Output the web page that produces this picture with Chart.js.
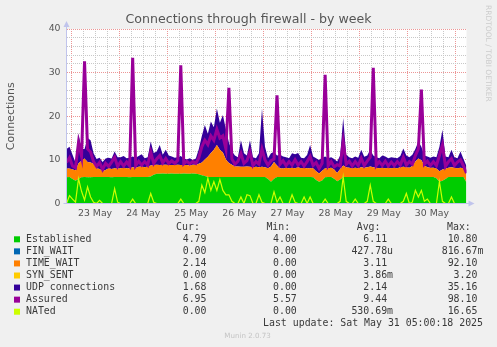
<!DOCTYPE html>
<html><head><meta charset="utf-8">
<script src="https://cdn.jsdelivr.net/npm/chart.js@4/dist/chart.umd.min.js"></script>
<style>html,body{margin:0;padding:0;background:#f0f0f0;}canvas{display:block;}</style>
</head><body>
<canvas id="c" width="497" height="347"></canvas>
<script>
// ---- data (1.5 h samples starting 22 May 21:45) ----
const dayLabels = ['23 May','24 May','25 May','26 May','27 May','28 May','29 May','30 May'];
const sampleStartHour = -2.25;   // hours relative to 23 May 00:00
const sampleStepHours = 1.5;

const established = [
6.0,6.1,5.6,5.2,5.6,6.0,6.1,6.0,6.0,6.1,
6.1,6.1,6.1,6.1,6.1,6.0,6.1,6.1,6.1,6.1,
6.1,6.0,6.1,6.1,6.1,6.1,6.1,6.1,6.2,6.6,
6.8,6.8,6.9,6.8,6.8,6.9,6.8,6.8,6.8,6.9,
6.8,6.8,6.9,6.8,6.7,6.5,6.3,6.1,6.1,6.1,
6.1,6.1,6.1,6.1,6.1,6.1,6.1,6.1,6.1,6.1,
6.1,6.1,6.1,6.1,6.1,6.1,6.1,5.6,5.0,5.7,
6.1,6.1,6.1,6.1,6.1,6.1,6.1,6.1,6.1,6.1,
6.1,6.1,6.0,5.4,5.0,5.3,6.0,6.1,6.1,5.7,
5.1,5.5,6.1,6.1,6.1,6.1,6.1,6.1,6.1,6.1,
6.1,6.1,6.1,6.1,6.1,6.1,6.1,6.1,6.1,6.1,
6.1,6.1,6.1,6.1,6.1,6.1,6.1,6.1,6.1,6.1,
6.1,6.1,6.1,5.8,5.0,5.2,5.6,6.1,6.1,6.1,
6.1,6.1,6.1,4.79];
const finWait = [
0,0,0,0,0,0,0,0,0,0, 0,0,0,0,0,0,0,0,0,0, 0,0,0,0,0,0,0,0,0,0,
0,0,0,0,0,0,0,0,0,0, 0,0,0,0,0,0,0,0,0,0, 0,0,0,0,0,0,0,0,0,0,
0,0,0,0,0,0,0,0,0,0, 0,0,0,0,0,0,0,0,0,0, 0,0,0,0,0,0,0,0,0,0,
0,0,0,0,0,0,0,0,0,0, 0,0,0,0,0,0,0,0,0,0, 0,0,0,0,0,0,0,0,0,0,
0,0,0,0,0,0,0,0,0,0, 0,0,0,0];
const timeWait = [
2.0,1.9,2.2,2.4,3.6,3.8,4.2,3.5,3.4,3.0,
2.0,1.8,1.3,1.6,2.0,1.9,2.0,1.9,2.0,2.1,
2.0,2.1,2.2,2.1,2.3,2.4,2.2,2.4,2.5,2.2,
2.1,2.0,2.0,2.1,2.0,1.9,2.0,2.1,2.0,1.9,
2.0,1.9,2.0,2.1,2.4,2.9,3.8,4.6,5.5,6.2,
7.3,6.2,5.6,4.0,3.2,2.8,2.4,2.4,2.3,2.3,
2.4,2.3,2.2,2.3,2.2,2.3,2.2,2.5,3.5,3.8,
2.6,2.0,1.9,2.1,2.0,2.1,2.0,2.2,2.0,2.1,
2.0,2.0,2.1,2.0,1.9,2.2,2.1,2.0,2.1,2.1,
1.9,2.4,2.6,2.2,2.1,2.0,2.1,2.0,2.2,2.1,
2.2,2.4,2.2,2.1,2.0,2.1,2.0,2.1,2.0,2.1,
2.0,2.2,2.3,2.2,2.1,2.5,3.5,4.2,3.8,2.6,
2.2,2.1,2.1,2.2,2.4,2.6,2.4,2.1,2.2,2.1,
2.0,2.1,2.0,2.14];
const synSent = [
0,0,0,0,0,0,0,0,0,0, 0,0,0,0,0,0,0,0,0,0, 0,0,0,0,0,0,0,0,0,0,
0,0,0,0,0,0,0,0,0,0, 0,0,0,0,0,0,0,0,0,0, 0,0,0,0,0,0,0,0,0,0,
0,0,0,0,0,0,0,0,0,0, 0,0,0,0,0,0,0,0,0,0, 0,0,0,0,0,0,0,0,0,0,
0,0,0,0,0,0,0,0,0,0, 0,0,0,0,0,0,0,0,0,0, 0,0,0,0,0,0,0,0,0,0,
0,0,0,0,0,0,0,0,0,0, 0,0,0,0];
const udp = [
4.5,5.0,3.4,1.8,6.8,2.7,2.2,5.5,5.1,2.4,
2.1,2.6,2.1,2.6,2.4,2.4,3.8,2.6,2.5,2.7,
2.3,2.4,2.5,2.3,2.5,2.8,2.1,2.1,5.5,2.8,
3.0,4.6,2.3,3.4,2.2,2.0,1.7,1.7,2.1,1.5,
1.3,1.7,1.1,1.4,3.4,6.1,7.9,5.3,7.2,5.2,
8.4,6.2,8.6,6.9,4.7,3.1,2.5,2.1,6.1,3.1,
2.5,6.1,2.3,2.0,3.2,13.4,4.7,2.3,3.0,2.3,
2.3,3.1,2.8,2.4,2.3,3.3,3.2,3.3,2.4,2.2,
3.0,5.3,2.7,3.0,3.1,3.0,2.7,2.3,2.4,2.4,
2.6,3.1,10.9,2.9,2.4,2.3,2.6,2.4,4.0,2.5,
2.7,3.8,2.7,2.4,2.3,2.8,2.7,2.2,2.5,2.3,
2.3,2.6,4.2,2.7,2.4,2.6,2.9,3.9,3.1,2.3,
2.5,2.3,2.6,2.6,5.6,9.1,2.8,2.4,4.0,2.4,
2.3,3.7,2.1,1.68];
const assured = [
9.4,10.5,8.6,8.2,14.0,10.8,32.6,12.5,11.8,9.6,
8.5,9.4,7.8,9.2,8.5,9.5,10.6,8.5,9.6,8.6,
9.5,8.6,33.4,8.7,9.7,8.8,9.6,8.8,11.8,9.2,
10.2,11.0,9.3,10.3,9.2,9.8,9.2,9.9,31.7,9.1,
9.7,9.1,9.6,9.2,10.5,13.0,14.5,13.5,15.5,14.5,
17.0,15.0,15.5,12.5,26.5,10.2,9.0,9.7,11.5,9.2,
9.8,11.8,8.7,9.6,9.0,12.5,10.0,8.8,9.8,10.2,
24.8,9.0,9.8,8.7,9.6,8.8,10.0,8.8,9.6,8.6,
9.6,10.8,8.7,9.4,8.0,9.2,29.5,8.6,9.6,8.4,
8.9,8.6,14.2,9.0,9.7,8.6,9.6,8.7,10.4,8.7,
9.7,10.6,31.1,8.7,9.6,8.7,9.7,8.6,9.5,8.7,
9.6,8.8,10.6,8.8,9.6,9.0,11.0,12.5,26.1,9.0,
9.7,8.7,9.6,8.7,11.0,13.4,8.5,9.6,10.3,8.7,
9.5,10.0,8.6,6.95];
const nated = [
0,1.8,1.0,0.3,5.7,2.8,0.8,3.8,1.5,0.3,
0,0.7,0,0,0,0,3.4,0.3,0,0,
0,0,1.0,0,0,0,0,0,2.3,0.3,
0,0,0,0,0,0,0,0,1.0,0,
0,0,0,0,0.5,4.2,2.5,5.8,3.0,5.0,
3.0,5.5,3.0,2.0,2.0,0.5,0,0,1.5,0,
2.0,1.8,0,0,2.0,0.3,0,0,0,2.7,
0.3,1.5,0,0,0,2.0,0.3,0,0,1.5,
0,1.5,0,0,0,0,1.0,0,0,0,
0,0.5,6.1,0.5,0,0,1.0,0,0,0,
0.5,4.2,0.5,0,0,0,0,1.0,0,0,
0,0,0.5,2.3,0,0.3,3.0,1.5,3.0,0.5,
1.0,0,0,0,5.0,0.5,0,0,1.5,0,
0,0,0,0];

// legend table values
const seriesNames = ['Established','FIN_WAIT','TIME_WAIT','SYN_SENT','UDP connections','Assured','NATed'];
const curVals = ['4.79','0.00','2.14','0.00','1.68','6.95','0.00'];
const minVals = ['4.00','0.00','0.00','0.00','0.00','5.57','0.00'];
const avgVals = ['6.11','427.78u','3.11','3.86m','2.14','9.44','530.69m'];
const maxVals = ['10.80','816.67m','92.10','3.20','35.16','98.10','16.65'];
const lastUpdate = 'Last update: Sat May 31 05:00:18 2025';

// ---- styling ----
const COLORS = ['#00CC00','#0066B3','#FF8000','#FFCC00','#330099','#990099','#CCFF00'];
const MAJOR = 'rgb(236,150,150)';
const MINOR = 'rgb(200,200,200)';
const TXT = '#555555';

const hours = established.map((_, i) => sampleStartHour + i * sampleStepHours);
const pts = arr => arr.map((v, i) => ({x: hours[i], y: v}));

function area(label, arr, k, fill) {
  return {label, data: pts(arr), backgroundColor: COLORS[k], borderColor: 'rgba(0,0,0,0)',
    borderWidth: 0, fill, stack: 'conn', order: 2, pointRadius: 0, pointHoverRadius: 0, tension: 0};
}

const deco = {
  id: 'deco',
  beforeDraw(chart) {
    const {ctx, chartArea: a} = chart;
    ctx.save();
    ctx.fillStyle = '#f0f0f0';
    ctx.fillRect(0, 0, chart.width, chart.height);
    ctx.fillStyle = '#ffffff';
    ctx.fillRect(a.left, a.top, a.right - a.left, a.bottom - a.top);
    ctx.restore();
  },
  afterDraw(chart) {
    const {ctx, chartArea: a} = chart;
    ctx.save();
    // axes with arrows
    ctx.strokeStyle = '#c0c4ec';
    ctx.fillStyle = '#c0c4ec';
    ctx.lineWidth = 1;
    ctx.beginPath();
    ctx.moveTo(a.left, a.bottom + 0.5); ctx.lineTo(a.left, a.top - 4);
    ctx.moveTo(a.left - 3, a.bottom); ctx.lineTo(a.right + 4, a.bottom);
    ctx.stroke();
    ctx.beginPath();
    ctx.moveTo(a.left - 3, a.top - 2); ctx.lineTo(a.left + 3, a.top - 2); ctx.lineTo(a.left, a.top - 8); ctx.closePath(); ctx.fill();
    ctx.beginPath();
    ctx.moveTo(a.right + 2, a.bottom - 3); ctx.lineTo(a.right + 2, a.bottom + 3); ctx.lineTo(a.right + 8, a.bottom); ctx.closePath(); ctx.fill();

    // title
    ctx.fillStyle = TXT;
    ctx.font = '12.6px "DejaVu Sans"';
    ctx.textAlign = 'center';
    ctx.textBaseline = 'middle';
    ctx.fillText('Connections through firewall - by week', 248.5, 19.5);

    // vertical watermark
    ctx.save();
    ctx.translate(487.5, 53.3);
    ctx.rotate(Math.PI / 2);
    ctx.fillStyle = '#cccccc';
    ctx.font = '7.5px "DejaVu Sans"';
    ctx.fillText('RRDTOOL / TOBI OETIKER', 0, 0);
    ctx.restore();

    // legend table
    const mono = '9.9px "DejaVu Sans Mono"';
    ctx.font = mono;
    ctx.fillStyle = '#3a3a3a';
    const colEnds = [206.5, 296.8, 387.1, 477.4];
    const heads = ['Cur:', 'Min:', 'Avg:', 'Max:'];
    ctx.textAlign = 'left';
    heads.forEach((h, k) => ctx.fillText(h, colEnds[k] - 30.4, 227.3));
    const cols = [curVals, minVals, avgVals, maxVals];
    seriesNames.forEach((name, r) => {
      const y = 239.3 + r * 12.07;
      ctx.fillStyle = COLORS[r];
      ctx.fillRect(14, y - 3, 6, 6);
      ctx.fillStyle = '#3a3a3a';
      ctx.textAlign = 'left';
      ctx.fillText(name, 26, y);
      cols.forEach((col, k) => {
        const v = col[r];
        const m = v.match(/^(.*?)([a-zA-Z]?)$/);
        ctx.textAlign = 'right';
        ctx.fillText(m[1], colEnds[k], y);
        if (m[2]) { ctx.textAlign = 'left'; ctx.fillText(m[2], colEnds[k], y); }
      });
    });
    ctx.textAlign = 'right';
    ctx.fillText(lastUpdate, 483, 323.7);
    ctx.textAlign = 'center';
    ctx.fillStyle = '#c4c4c4';
    ctx.font = '7.1px "DejaVu Sans"';
    ctx.fillText('Munin 2.0.73', 247.5, 336);
    ctx.restore();
  }
};

const zeroPad = s => { s.paddingLeft = 0; s.paddingRight = 0; s.paddingTop = 0; s.paddingBottom = 0; };

new Chart(document.getElementById('c'), {
  type: 'line',
  data: {datasets: [
    area(seriesNames[0], established, 0, 'origin'),
    area(seriesNames[1], finWait, 1, '-1'),
    area(seriesNames[2], timeWait, 2, '-1'),
    area(seriesNames[3], synSent, 3, '-1'),
    area(seriesNames[4], udp, 4, '-1'),
    {label: seriesNames[5], data: pts(assured), borderColor: COLORS[5], backgroundColor: COLORS[5], borderWidth: 3,
     fill: false, stack: 'assured', order: 1, pointRadius: 0, pointHoverRadius: 0, tension: 0},
    {label: seriesNames[6], data: pts(nated), borderColor: COLORS[6], backgroundColor: COLORS[6], borderWidth: 1.2,
     fill: false, stack: 'nated', order: 0, pointRadius: 0, pointHoverRadius: 0, tension: 0}
  ]},
  options: {
    responsive: false, animation: false, devicePixelRatio: 1, events: [],
    layout: {padding: {left: 0, right: 30.5, top: 29, bottom: 127.5}},
    plugins: {legend: {display: false}, tooltip: {enabled: false}, title: {display: false}},
    scales: {
      x: {
        type: 'linear', min: -2.25, max: 197.25,
        afterFit(s) { s.height = 16; zeroPad(s); },
        ticks: {stepSize: 6, autoSkip: false, maxRotation: 0, minRotation: 0, includeBounds: false, padding: 4,
          color: TXT, font: {family: 'DejaVu Sans', size: 9.33},
          callback: v => (v % 24 === 12) ? (dayLabels[(v - 12) / 24] || '') : ''},
        grid: {drawTicks: false, lineWidth: 1,
          color: c => (c.tick && c.tick.value % 24 === 0) ? MAJOR : MINOR},
        border: {display: false, dash: [1, 1]}
      },
      y: {
        stacked: true, min: 0, max: 40,
        afterFit(s) { s.width = 66.5; zeroPad(s); },
        ticks: {stepSize: 2, autoSkip: false, padding: 6, color: TXT, font: {family: 'DejaVu Sans', size: 9.33},
          callback: v => (v % 10 === 0) ? String(v) : ''},
        grid: {drawTicks: false, lineWidth: 1,
          color: c => (c.tick && c.tick.value % 10 === 0) ? MAJOR : MINOR},
        border: {display: false, dash: [1, 1]},
        title: {display: true, text: 'Connections', color: TXT, font: {family: 'DejaVu Sans', size: 11},
          padding: {top: 4.4, bottom: 0}}
      }
    }
  },
  plugins: [deco]
});
</script>
</body></html>
